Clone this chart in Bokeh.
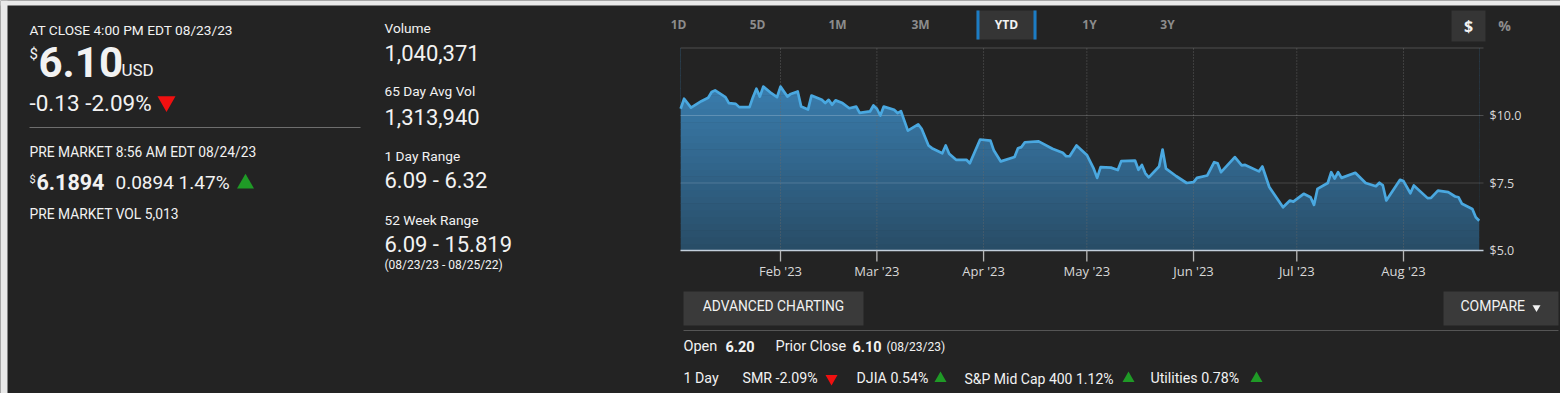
import numpy as np
import pandas as pd
from bokeh.plotting import figure
from bokeh.models import Range1d
from bokeh.core.properties import value
from bokeh.embed import file_html
from bokeh.resources import INLINE

# ---------------- data ----------------
dates = ["2023-01-03", "2023-01-04", "2023-01-06", "2023-01-09", "2023-01-11", "2023-01-12",
         "2023-01-13", "2023-01-16", "2023-01-17", "2023-01-19", "2023-01-20", "2023-01-23",
         "2023-01-24", "2023-01-25", "2023-01-26", "2023-01-27", "2023-01-29", "2023-01-31",
         "2023-02-01", "2023-02-03", "2023-02-04", "2023-02-06", "2023-02-07", "2023-02-09",
         "2023-02-10", "2023-02-13", "2023-02-14", "2023-02-15", "2023-02-16", "2023-02-17",
         "2023-02-19", "2023-02-21", "2023-02-23", "2023-02-24", "2023-02-27", "2023-02-28",
         "2023-03-01", "2023-03-02", "2023-03-03", "2023-03-06", "2023-03-07", "2023-03-08",
         "2023-03-10", "2023-03-13", "2023-03-14", "2023-03-16", "2023-03-17", "2023-03-20",
         "2023-03-21", "2023-03-22", "2023-03-24", "2023-03-27", "2023-03-28", "2023-03-31",
         "2023-04-03", "2023-04-04", "2023-04-06", "2023-04-10", "2023-04-11", "2023-04-12",
         "2023-04-13", "2023-04-17", "2023-04-21", "2023-04-24", "2023-04-25", "2023-04-26",
         "2023-04-28", "2023-05-01", "2023-05-03", "2023-05-04", "2023-05-05", "2023-05-08",
         "2023-05-10", "2023-05-11", "2023-05-15", "2023-05-16", "2023-05-17", "2023-05-18",
         "2023-05-19", "2023-05-22", "2023-05-23", "2023-05-24", "2023-05-27", "2023-05-30",
         "2023-06-01", "2023-06-02", "2023-06-05", "2023-06-07", "2023-06-08", "2023-06-09",
         "2023-06-13", "2023-06-15", "2023-06-16", "2023-06-20", "2023-06-21", "2023-06-23",
         "2023-06-27", "2023-06-29", "2023-06-30", "2023-07-03", "2023-07-05", "2023-07-06",
         "2023-07-07", "2023-07-10", "2023-07-11", "2023-07-12", "2023-07-13", "2023-07-14",
         "2023-07-18", "2023-07-21", "2023-07-24", "2023-07-25", "2023-07-26", "2023-07-27",
         "2023-07-31", "2023-08-01", "2023-08-03", "2023-08-04", "2023-08-08", "2023-08-09",
         "2023-08-11", "2023-08-14", "2023-08-16", "2023-08-17", "2023-08-18", "2023-08-21",
         "2023-08-22", "2023-08-23"]
closes = [10.25, 10.62, 10.29, 10.53, 10.66, 10.87,
          10.93, 10.68, 10.46, 10.43, 10.31, 10.31,
          10.68, 10.99, 10.70, 11.07, 10.86, 10.68,
          11.07, 10.70, 10.80, 10.89, 10.33, 10.22,
          10.74, 10.58, 10.46, 10.58, 10.40, 10.56,
          10.46, 10.27, 10.33, 10.10, 10.15, 10.37,
          10.25, 10.00, 10.33, 10.21, 10.09, 10.16,
          9.44, 9.67, 9.51, 8.89, 8.79, 8.60,
          8.89, 8.58, 8.36, 8.36, 8.23, 9.11,
          9.07, 8.70, 8.30, 8.46, 8.79, 8.83,
          9.01, 9.04, 8.77, 8.62, 8.49, 8.49,
          8.89, 8.54, 8.03, 7.69, 8.09, 8.07,
          7.98, 8.31, 8.33, 7.99, 8.17, 7.86,
          7.71, 8.11, 8.74, 8.03, 7.75, 7.50,
          7.53, 7.69, 7.78, 8.27, 8.23, 7.90,
          8.46, 8.15, 8.17, 7.93, 8.11, 7.35,
          6.60, 6.85, 6.81, 7.10, 6.97, 6.69,
          7.28, 7.50, 7.90, 7.66, 7.90, 7.69,
          7.88, 7.50, 7.38, 7.51, 7.41, 6.85,
          7.62, 7.57, 7.12, 7.41, 6.94, 6.95,
          7.22, 7.16, 7.00, 6.97, 6.73, 6.54,
          6.23, 6.10]

month_ticks = ["2023-02-01", "2023-03-01", "2023-04-01", "2023-05-01",
               "2023-06-01", "2023-07-01", "2023-08-01"]
month_labels = ["Feb '23", "Mar '23", "Apr '23", "May '23", "Jun '23", "Jul '23", "Aug '23"]
price_ticks = [5.0, 7.5, 10.0]
price_labels = ["$5.0", "$7.5", "$10.0"]
grid_prices = [7.5, 10.0, 12.5]
range_tabs = ["1D", "5D", "1M", "3M", "YTD", "1Y", "3Y"]

# ---------------- styles ----------------
BG = "#232323"
FONT = "Roboto"
FONT2 = "Open Sans"
WHITE = "#f2f2f2"
GREY = "#8c8c8c"
RED = "#f01010"
GREEN = "#1f9a26"
CAP = 0.355  # half cap height (em): baseline -> visual middle

W, H = 1560, 393
p = figure(width=W, height=H, x_range=Range1d(0, W), y_range=Range1d(H, 0),
           output_backend="svg", toolbar_location=None, min_border=0,
           x_axis_location=None, y_axis_location=None,
           background_fill_color=BG, border_fill_color=BG, outline_line_color=None)
p.grid.visible = False

# light page strip (top and left)
p.quad(left=[0], right=[W], top=[0], bottom=[5], fill_color="#e9e9e9", line_color=None)
p.quad(left=[0], right=[7], top=[0], bottom=[H], fill_color="#e9e9e9", line_color=None)

# date / price scales positioned onto the chart box
t_a = pd.Timestamp("2023-02-01").value / 1e6
t_b = pd.Timestamp("2023-08-01").value / 1e6
px_a, px_b = 780.0, 1403.0
mspp = (t_b - t_a) / (px_b - px_a)
p.extra_x_ranges = {"date": Range1d(t_a - px_a * mspp, t_a + (W - px_a) * mspp)}
ppd = 27.0
p.extra_y_ranges = {"price": Range1d(5 - (H - 250) / ppd, 5 + 250 / ppd)}
D = dict(x_range_name="date", y_range_name="price")

dts = pd.to_datetime(dates)
cl = np.array(closes)
mts = pd.to_datetime(month_ticks)

# gradient fill (bands), then mask above the price line
top_c = np.array([62, 136, 190])
bot_c = np.array([40, 76, 102])
edges = np.linspace(5.0, 12.5, 31)
for a, b in zip(edges[:-1], edges[1:]):
    t = ((a + b) / 2 - 5.0) / 7.5
    c = bot_c + t * (top_c - bot_c)
    col = "#%02x%02x%02x" % tuple(int(round(v)) for v in c)
    p.quad(left=[dts[0]], right=[dts[-1]], bottom=[a - (0.02 if a > 5.0 else 0)], top=[b],
           fill_color=col, line_color=None, **D)
p.varea(x=dts, y1=cl, y2=12.62, fill_color=BG, **D)

# grid lines
p.segment(x0=mts, x1=mts, y0=5.0, y1=12.5, line_color="#6a6a6a", line_dash="1 2",
          line_width=1, line_alpha=0.8, **D)
for g in grid_prices:
    p.segment(x0=[680], x1=[1483], y0=[g], y1=[g], line_color="#ffffff",
              line_alpha=0.2 if g != 7.5 else 0.16, line_width=1.2,
              y_range_name="price")

# price line
p.line(dts, cl, line_color="#4aa8e0", line_width=2.7, line_join="round", **D)

# x axis
p.segment(x0=[680], x1=[1483], y0=[5.0], y1=[5.0], line_color="#c3cfdb", line_width=1.5,
          y_range_name="price")
p.segment(x0=mts, x1=mts, y0=250, y1=261, line_color="#b8b8b8", line_width=1.3,
          x_range_name="date")
p.text(x=mts, y=[275 - CAP * 13] * len(mts), text=month_labels, x_range_name="date",
       text_font=value(FONT2), text_font_size="13px", text_color="#d8d8d8",
       text_align="center", text_baseline="middle")
# y axis labels
p.text(x=[1489] * len(price_ticks), y=price_ticks, text=price_labels, y_range_name="price",
       text_font=value(FONT2), text_font_size="12.5px", text_color="#d8d8d8",
       text_align="left", text_baseline="middle")


def txt(x, y, s, size, color=WHITE, bold=False, align="left", font=FONT):
    # y is the text baseline (screen px); drawn centred on cap middle
    p.text(x=[x], y=[y - CAP * size], text=[s], text_font=value(font),
           text_font_size=f"{size}px", text_color=color,
           text_font_style="bold" if bold else "normal",
           text_align=align, text_baseline="middle")


def box(l, r, t, b, color):
    p.quad(left=[l], right=[r], top=[t], bottom=[b], fill_color=color, line_color=None)


def tri(x, y, up, color, size=14):
    p.scatter(x=[x], y=[y], marker="triangle" if up else "inverted_triangle", size=size,
              fill_color=color, line_color=None)


# ---------------- left panel ----------------
txt(29, 34, "AT CLOSE 4:00 PM EDT 08/23/23", 13.7)
txt(29, 59, "$", 15)
txt(38, 76, "6.10", 42, bold=True)
txt(121, 76, "USD", 17)
txt(29, 110, "-0.13 -2.09%", 22.5)
tri(166, 101, False, RED, 18)
p.segment(x0=[29], x1=[360], y0=[127], y1=[127], line_color="#6e6e6e", line_width=1.2)
txt(29, 156, "PRE MARKET 8:56 AM EDT 08/24/23", 13.8)
txt(29, 183, "$", 11)
txt(36, 189, "6.1894", 21.5, bold=True)
txt(115, 189, "0.0894 1.47%", 19)
tri(245, 183, True, GREEN, 17)
txt(29, 218, "PRE MARKET VOL 5,013", 13.8)

# middle stats
txt(384, 32, "Volume", 13.7)
txt(384, 60, "1,040,371", 22)
txt(384, 95, "65 Day Avg Vol", 13.7)
txt(384, 124, "1,313,940", 22)
txt(384, 160, "1 Day Range", 13.7)
txt(384, 188, "6.09 - 6.32", 22)
txt(384, 224, "52 Week Range", 13.7)
txt(384, 252, "6.09 - 15.819", 22)
txt(384, 269, "(08/23/23 - 08/25/22)", 12)

# ---------------- top bar ----------------
box(976, 1036, 10, 39, "#353535")
box(976, 979, 10, 39, "#1c7cc4")
box(1033, 1036, 10, 39, "#1c7cc4")
tab_x = [678, 757, 837, 920, 1006, 1089, 1167]
for s, x in zip(range_tabs, tab_x):
    txt(x, 28, s, 12, color=WHITE if s == "YTD" else GREY, bold=True, align="center", font=FONT2)
box(1451, 1485, 10, 41, "#353535")
txt(1468, 31, "$", 16, color=WHITE, bold=True, align="center", font=FONT2)
txt(1504, 30, "%", 14, color=GREY, bold=True, align="center", font=FONT2)

# ---------------- bottom controls ----------------
box(683, 863, 291, 325, "#3a3a3a")
txt(773, 310, "ADVANCED CHARTING", 13.8, align="center")
box(1443, 1558, 291, 325, "#3a3a3a")
txt(1460, 310, "COMPARE", 14)
tri(1536, 307, False, WHITE, 8)
p.segment(x0=[683], x1=[1558], y0=[330], y1=[330], line_color="#555555", line_width=1.2)

txt(683, 351, "Open", 14.5)
txt(725, 351, "6.20", 14.5, bold=True)
txt(775, 351, "Prior Close", 14.5)
txt(852, 351, "6.10", 14.5, bold=True)
txt(886, 351, "(08/23/23)", 12)

txt(683, 383, "1 Day", 14.2)
txt(742, 383, "SMR -2.09%", 14.2)
tri(831, 378, False, RED, 12)
txt(856, 383, "DJIA 0.54%", 14.2)
tri(940, 378, True, GREEN, 12)
txt(964, 383, "S&P Mid Cap 400 1.12%", 14)
tri(1128, 378, True, GREEN, 12)
txt(1150, 383, "Utilities 0.78%", 14.2)
tri(1256, 378, True, GREEN, 12)

open("out.html", "w").write(file_html(p, INLINE))
